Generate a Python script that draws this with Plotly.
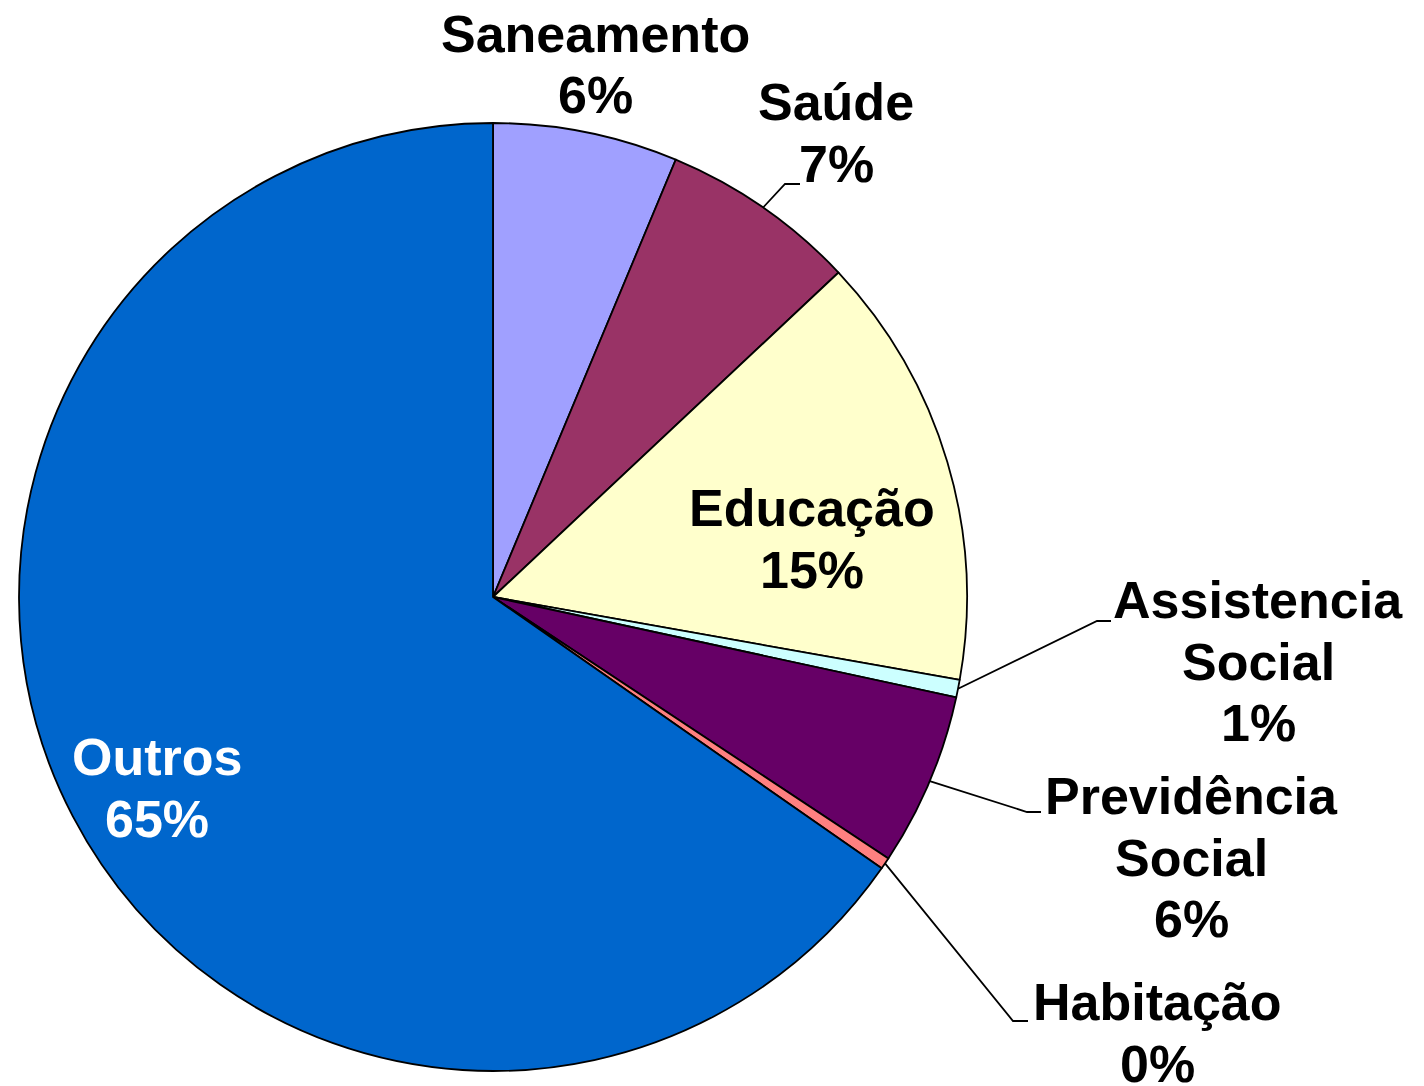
import math
import plotly.graph_objects as go

# ---- data ----
categories = ["Saneamento", "Saúde", "Educação", "Assistencia Social",
              "Previdência Social", "Habitação", "Outros"]
values = [6.3, 6.7, 14.8, 0.6, 5.9, 0.4, 65.3]
colors = ["#A0A0FF", "#993366", "#FFFFCC", "#CCFFFF", "#660066", "#FF8080", "#0066CC"]
# label lines (text split in lines) as shown on the chart
label_lines = [["Saneamento"], ["Saúde"], ["Educação"], ["Assistencia", "Social"],
               ["Previdência", "Social"], ["Habitação"], ["Outros"]]

W, H = 1424, 1086
CX, CY, R = 493, 597, 474  # pie centre / radius in px

# label placement (px): centre x, first-line y
label_pos = {
    0: (595, 34),
    1: (836, 102),
    2: (812, 508),
    3: (1258, 600),
    4: (1191, 796),
    5: (1157, 1002),
    6: (157, 757),
}
LINE_STEP = 61.5
text_colors = ["black"] * 6 + ["white"]
# leader elbows (px): elbow point, end of horizontal tick
leaders = {
    1: ((785, 184), (800, 184)),
    3: ((1097, 621), (1111, 621)),
    4: ((1027, 812), (1041, 812)),
    5: ((1013, 1021), (1028, 1021)),
}


def px2paper(x, y):
    return x / W, 1 - y / H


dx0, dy1 = px2paper(CX - R, CY - R)
dx1, dy0 = px2paper(CX + R, CY + R)

fig = go.Figure(go.Pie(
    labels=categories, values=values, sort=False, direction="clockwise",
    rotation=0,
    marker=dict(colors=colors, line=dict(color="black", width=1.8)),
    textinfo="none", hoverinfo="label+percent", showlegend=False,
    domain=dict(x=[dx0, dx1], y=[dy0, dy1]),
))

total = sum(values)
annotations = []
shapes = []
cum = 0.0
for i, v in enumerate(values):
    pct = v / total * 100
    lines = label_lines[i] + [f"{round(pct):d}%"]
    lx, ly = label_pos[i]
    for k, t in enumerate(lines):
        ax, ay = px2paper(lx, ly + k * LINE_STEP)
        annotations.append(dict(
            x=ax, y=ay, xref="paper", yref="paper", text=f"<b>{t}</b>",
            showarrow=False, xanchor="center", yanchor="middle",
            font=dict(family="Liberation Sans, Arial, sans-serif", size=52,
                      color=text_colors[i])))
    mid = (cum + v / 2) / total * 2 * math.pi
    cum += v
    if i in leaders:
        sx = CX + R * math.sin(mid)
        sy = CY - R * math.cos(mid)
        (ex, ey), (hx, hy) = leaders[i]
        pts = [px2paper(sx, sy), px2paper(ex, ey), px2paper(hx, hy)]
        path = "M {} {} L {} {} L {} {}".format(*[c for p in pts for c in p])
        shapes.append(dict(type="path", path=path, xref="paper", yref="paper",
                           line=dict(color="black", width=1.8)))

fig.update_layout(
    width=W, height=H, margin=dict(l=0, r=0, t=0, b=0),
    paper_bgcolor="white", plot_bgcolor="white",
    annotations=annotations, shapes=shapes,
)
fig.write_html("out.html", config={"displayModeBar": False},
               post_script="document.body.style.margin='0';"
                           "document.body.style.overflow='hidden';")
